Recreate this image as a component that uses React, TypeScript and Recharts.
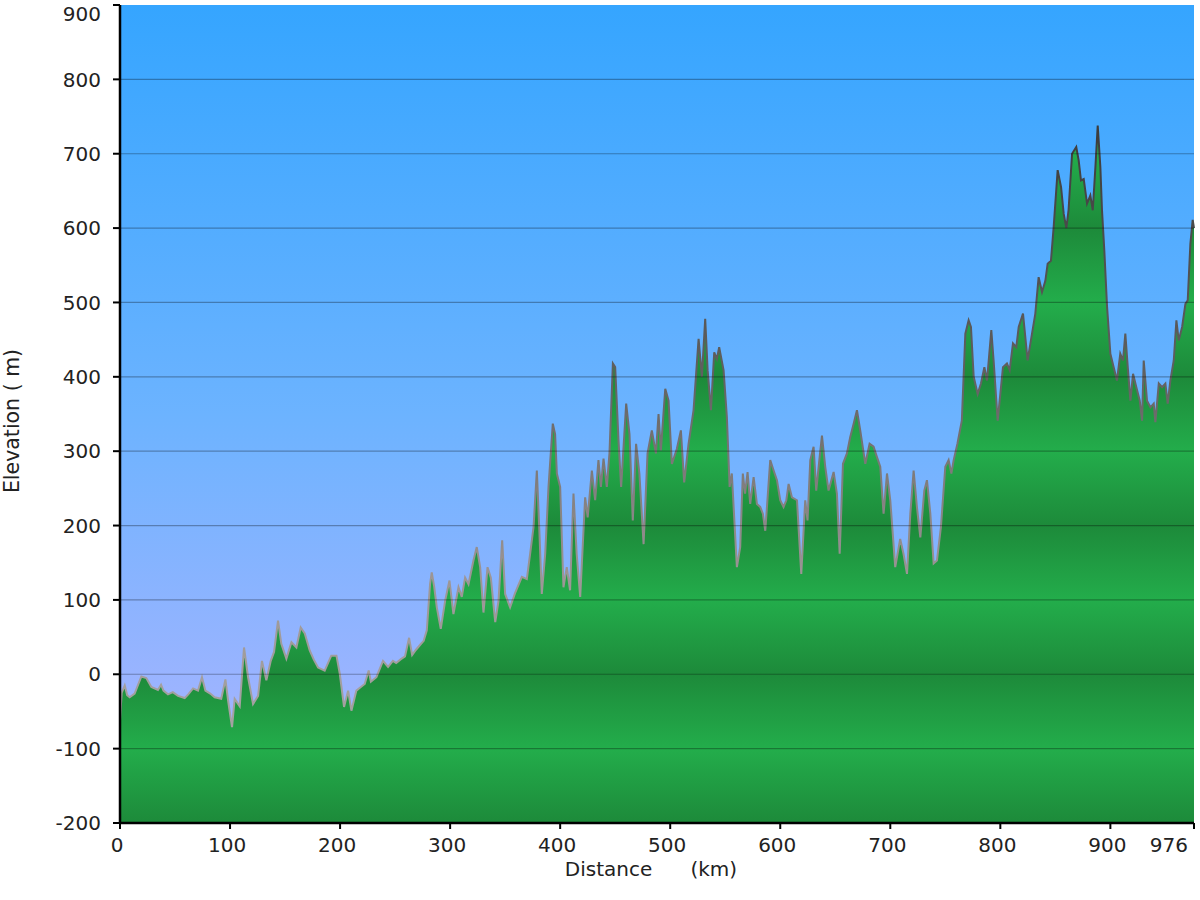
import React from 'react';
import { AreaChart, Area, XAxis, YAxis, CartesianGrid, ReferenceLine } from 'recharts';

// distance along the route (km) and elevation (m)
const distanceKm = [
  0, 1.5, 4.3, 6.5, 8.8, 13.3, 19.4, 23.9, 28.5, 34.5, 37.3, 39.5, 43.6, 48, 52.7, 58.8, 62, 66.4, 70.9, 74.5,
  77.6, 82, 86, 92, 95.8, 98.2, 101.8, 104.2, 108.8, 112.7, 116.4, 120.9, 125.5, 129, 133, 137, 140, 143.6, 146.6, 151.2,
  155.8, 160.3, 164.2, 167.9, 172.4, 176, 180, 186, 192, 196.7, 199.7, 203.6, 207.3, 210.3, 214.8, 218, 222.4, 226, 228, 233,
  239, 243.6, 248, 251, 255, 259, 262.7, 265.5, 269, 273, 276, 278.8, 281.8, 283.3, 285.5, 287.9, 291.5, 295.5, 299.4, 303,
  307.6, 310.6, 313.6, 316.7, 321.2, 324.2, 327.3, 330.3, 334, 337, 341, 344, 347.3, 350, 354.5, 359, 365.2, 369.7, 372.7, 375.8,
  378.8, 381.2, 383.3, 386.4, 389.4, 393.3, 395.4, 397, 400, 403, 406, 409, 412.1, 415, 418.2, 422.7, 425, 428.8, 431.8, 434.8,
  437, 439.4, 442.4, 444.8, 447.9, 450, 453, 455.4, 460, 463, 466, 469, 472, 475.8, 479.4, 483.3, 487, 489.4, 491.5, 495.5,
  498.5, 501.5, 506, 509.7, 512.7, 516.7, 521.2, 525.8, 528.8, 531.8, 534, 537, 540, 542.4, 544.5, 548.5, 551.5, 554, 556, 560.6,
  563.6, 566, 568, 570.3, 572.7, 575.8, 578.8, 581.8, 584.2, 586.4, 590.9, 594, 597, 600, 603, 605.5, 607.6, 610.6, 615.2, 619.1,
  622.7, 624.8, 627.3, 630.3, 632.7, 635.8, 637.9, 640.9, 643.9, 648.5, 651.5, 654, 657, 660.6, 663.6, 666.7, 669.7, 672.7, 677.3, 681.2,
  684.8, 687.9, 690.9, 693.9, 697, 700, 704.5, 709, 712, 715.2, 718.2, 721.2, 724.2, 727.3, 730.9, 733.3, 736.4, 739.4, 742.4, 746,
  750, 753, 755.5, 757.6, 761, 765, 768.2, 771.2, 773.3, 775.8, 779.4, 782.4, 785.5, 787.9, 791.8, 793.9, 797.6, 802.4, 806, 808.5,
  811.5, 814.5, 816.7, 820.6, 824.8, 828.8, 831.8, 834.8, 837.9, 840.9, 843, 846, 848.5, 852.1, 855.2, 857.6, 860, 862, 865.2, 869,
  871.2, 873.3, 875.8, 878.8, 881.8, 884, 886.4, 888.5, 890.9, 892.4, 894.5, 897, 900, 903, 906, 909, 911.5, 913.6, 915.8, 918.2,
  920.6, 923.6, 926.7, 928.8, 930.3, 933.3, 936.4, 939.4, 940.9, 944, 947, 950, 952.1, 954.5, 957.6, 960, 962.1, 965.2, 968.2, 970.3,
  972.7, 974.8, 976,
];

const elevationM = [
  -62, -25, -15, -28, -31, -26, -3, -5, -17, -21, -14, -22, -27, -24, -29, -32, -27, -19, -22, -4,
  -22, -26, -31, -33, -7, -35, -71, -33, -43, 36, -4, -40, -29, 18, -8, 18, 30, 72, 41, 21,
  43, 36, 63, 55, 32, 20, 9, 5, 25, 25, 1, -44, -22, -49, -22, -18, -13, 5, -10, -4,
  18, 10, 18, 15, 20, 24, 49, 26, 33, 40, 45, 59, 122, 137, 118, 90, 61, 99, 126, 81,
  117, 104, 130, 121, 153, 171, 144, 83, 144, 130, 70, 99, 180, 108, 90, 109, 131, 128, 162, 198,
  274, 189, 108, 162, 252, 337, 323, 270, 252, 117, 144, 113, 243, 162, 104, 238, 211, 274, 234, 288,
  252, 290, 252, 297, 418, 413, 315, 252, 364, 323, 207, 310, 270, 175, 297, 328, 297, 350, 301, 384,
  368, 283, 303, 328, 258, 310, 355, 451, 400, 478, 409, 355, 433, 424, 440, 409, 346, 252, 270, 144,
  171, 270, 243, 272, 229, 265, 229, 225, 216, 193, 288, 274, 261, 234, 225, 234, 256, 238, 234, 135,
  234, 207, 288, 306, 247, 292, 321, 279, 247, 272, 243, 162, 283, 297, 319, 337, 355, 328, 283, 310,
  306, 292, 279, 216, 270, 234, 144, 182, 162, 135, 216, 274, 225, 184, 247, 261, 216, 149, 153, 198,
  279, 288, 270, 288, 310, 341, 458, 476, 467, 400, 377, 391, 413, 395, 463, 422, 341, 413, 418, 409,
  445, 440, 467, 485, 422, 458, 485, 534, 514, 529, 552, 556, 602, 678, 655, 619, 600, 624, 700, 709,
  691, 664, 666, 633, 644, 624, 682, 738, 682, 624, 570, 494, 431, 413, 395, 431, 422, 458, 413, 368,
  404, 386, 368, 341, 422, 368, 359, 364, 339, 391, 386, 391, 364, 395, 422, 476, 449, 467, 498, 503,
  579, 611, 600,
];

const xTicks = [0, 100, 200, 300, 400, 500, 600, 700, 800, 900, 976];
const yTicks = [-200, -100, 0, 100, 200, 300, 400, 500, 600, 700, 800, 900];
const gridLevels = [-100, 0, 100, 200, 300, 400, 500, 600, 700, 800];

const profile = distanceKm.map((km, i) => ({ km, ele: elevationM[i] }));

const W = 1200;
const H = 900;
const TOP = 5;
const BOTTOM = 823;
const FONT = '"DejaVu Sans", Verdana, sans-serif';
const NB = '\u00A0';

const YTick = (props: any) => {
  const { x, y, payload } = props;
  const ty = y < 12 ? 14 : y;
  return (
    <text x={x} y={ty} dy="0.36em" textAnchor="end" fill="#222" fontSize={20} fontFamily={FONT}>
      {payload.value}
    </text>
  );
};

const XTick = (props: any) => {
  const { x, y, payload } = props;
  const last = payload.value === 976;
  return (
    <text x={last ? x - 6 : x - 3} y={y} dy="0.71em" textAnchor={last ? 'end' : 'middle'} fill="#222" fontSize={20} fontFamily={FONT}>
      {payload.value}
    </text>
  );
};

export default function App() {
  // alternating light / dark green bands every 100 m
  const bandStops = yTicks
    .slice()
    .reverse()
    .map((v, i) => ({ off: (900 - v) / 1100, color: i % 2 === 0 ? '#23ad4b' : '#1d8a3a' }));

  return (
    <div style={{ position: 'absolute', left: 0, top: 0, width: W, height: H, background: '#fff' }}>
      <AreaChart width={W} height={H} data={profile} margin={{ top: TOP, right: 6, bottom: 0, left: 0 }}>
        <defs>
          <linearGradient id="sky" x1="0" y1={TOP} x2="0" y2={BOTTOM} gradientUnits="userSpaceOnUse">
            <stop offset="0%" stopColor="#35a5ff" />
            <stop offset="50%" stopColor="#6cb3ff" />
            <stop offset="100%" stopColor="#b2b4ff" />
          </linearGradient>
          <linearGradient id="land" x1="0" y1={TOP} x2="0" y2={BOTTOM} gradientUnits="userSpaceOnUse">
            {bandStops.map((s) => (
              <stop key={s.off} offset={s.off} stopColor={s.color} />
            ))}
          </linearGradient>
          <linearGradient id="edge" x1="0" y1={TOP} x2="0" y2={BOTTOM} gradientUnits="userSpaceOnUse">
            <stop offset="0%" stopColor="#2a2a2a" />
            <stop offset="45%" stopColor="#606060" />
            <stop offset="70%" stopColor="#9c9696" />
            <stop offset="100%" stopColor="#aaaaaa" />
          </linearGradient>
        </defs>
        <CartesianGrid horizontal={false} vertical={false} fill="url(#sky)" fillOpacity={1} stroke="none" />
        <XAxis
          dataKey="km"
          type="number"
          domain={[0, 976]}
          ticks={xTicks}
          interval={0}
          height={77}
          tickSize={6}
          tickMargin={9}
          axisLine={{ stroke: '#000', strokeWidth: 2.5 }}
          tickLine={{ stroke: '#000', strokeWidth: 2 }}
          tick={<XTick />}
          label={{ value: `Distance${NB.repeat(6)}(km)`, position: 'center', dx: -6, dy: 7, style: { fontSize: 20, fontFamily: FONT, fill: '#222' } }}
        />
        <YAxis
          type="number"
          domain={[-200, 900]}
          ticks={yTicks}
          interval={0}
          width={120}
          tickSize={7}
          tickMargin={12}
          axisLine={{ stroke: '#000', strokeWidth: 2.5 }}
          tickLine={{ stroke: '#000', strokeWidth: 2 }}
          tick={<YTick />}
          label={{ value: `Elevation (${NB}m)`, angle: -90, position: 'center', dx: -48, dy: 7, style: { fontSize: 20.5, fontFamily: FONT, fill: '#222' } }}
        />
        <Area
          type="linear"
          dataKey="ele"
          baseValue={-200}
          fill="url(#land)"
          fillOpacity={1}
          stroke="url(#edge)"
          strokeWidth={2}
          dot={false}
          activeDot={false}
          isAnimationActive={false}
        />
        {gridLevels.map((v) => (
          <ReferenceLine key={v} y={v} stroke="rgba(0,0,0,0.3)" strokeWidth={1.2} />
        ))}
      </AreaChart>
    </div>
  );
}
